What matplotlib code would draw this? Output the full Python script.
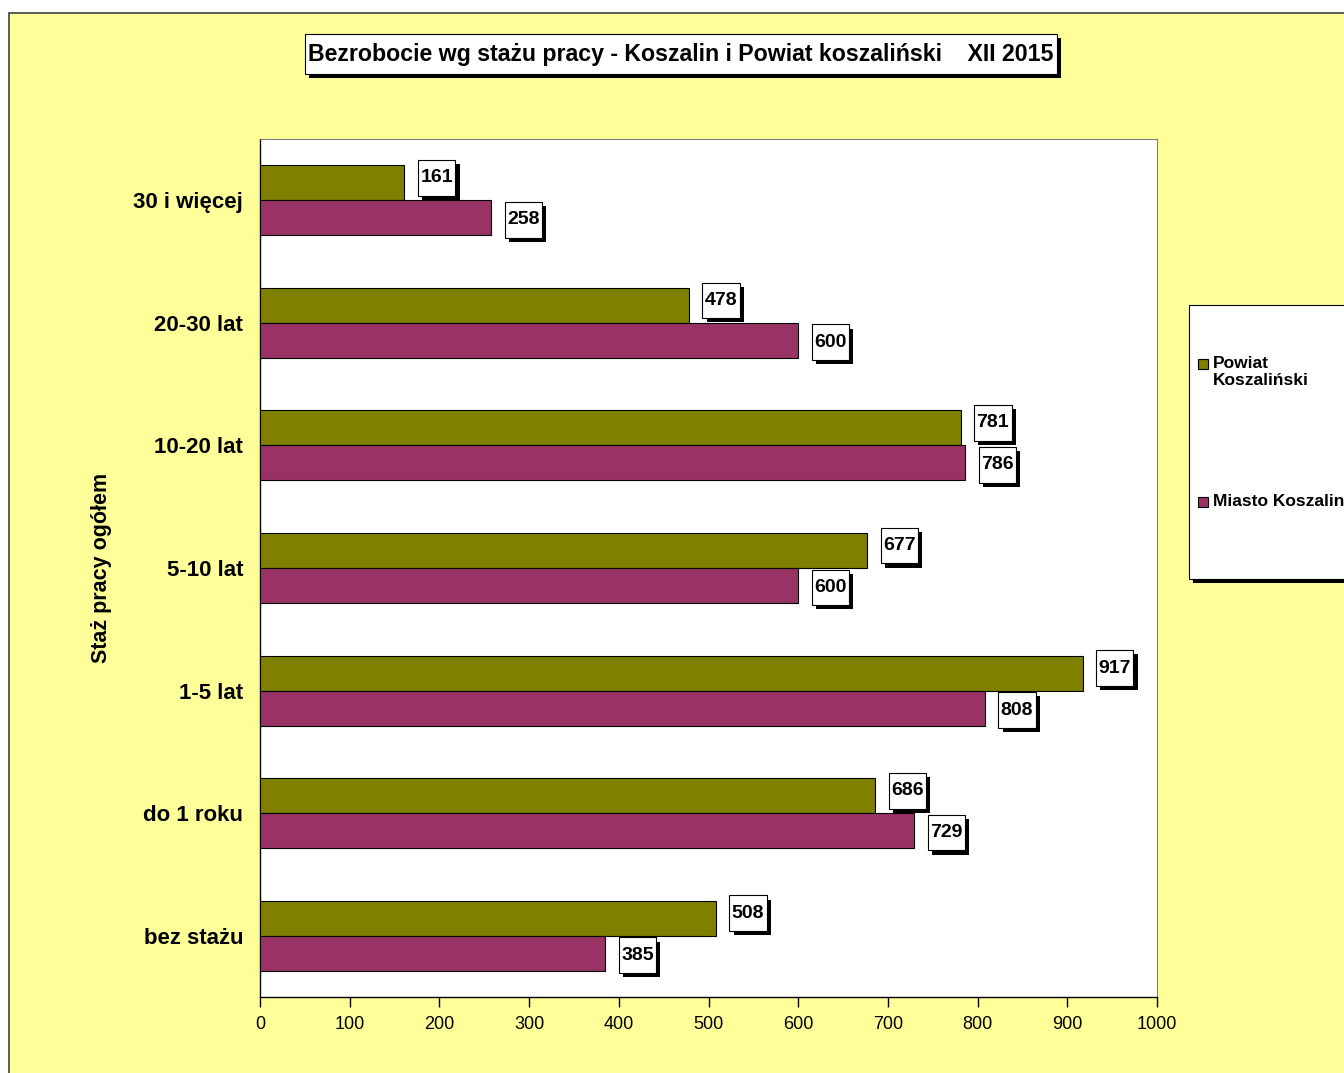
import matplotlib
matplotlib.use("Agg")
import matplotlib.pyplot as plt
from matplotlib.patches import Rectangle
from matplotlib.path import Path
import matplotlib.patheffects as pe

plt.rcParams['font.family'] = ['Liberation Sans', 'DejaVu Sans']

categories = ["bez stażu", "do 1 roku", "1-5 lat", "5-10 lat", "10-20 lat", "20-30 lat", "30 i więcej"]
powiat = [508, 686, 917, 677, 781, 478, 161]
miasto = [385, 729, 808, 600, 786, 600, 258]
series_names = ["Powiat\nKoszaliński", "Miasto Koszalin"]
xticks = [0, 100, 200, 300, 400, 500, 600, 700, 800, 900, 1000]
title = "Bezrobocie wg stażu pracy - Koszalin i Powiat koszaliński    XII 2015"
ylabel = "Staż pracy ogółem"

W, H = 1344, 1073
fig = plt.figure(figsize=(W / 100, H / 100), dpi=100)
fig.patch.set_facecolor("white")

def fx(px):
    return px / W

def fy(py):
    return 1 - py / H

olive = "#808000"
plum = "#993366"
yellow = "#FFFF99"


def make_box(padx, pady):
    def box(x0, y0, width, height, mutation_size):
        px = padx * mutation_size
        py = pady * mutation_size
        x0, y0 = x0 - px, y0 - py
        x1, y1 = x0 + width + 2 * px, y0 + height + 2 * py
        return Path([(x0, y0), (x1, y0), (x1, y1), (x0, y1), (x0, y0)], closed=True)
    return box

# outer chart area
outer = Rectangle((fx(8.5), fy(1090)), fx(1400), (1090 - 12.5) / H, transform=fig.transFigure,
                  facecolor=yellow, edgecolor="#404040", linewidth=1.2, zorder=-5)
fig.patches.append(outer)

ax = fig.add_axes([fx(260), fy(997), fx(1157) - fx(260), (997 - 139) / H])
ax.set_facecolor("white")
ax.set_zorder(1)

h = 0.285
ys = list(range(len(categories)))
ax.barh([y + h / 2 for y in ys], powiat, height=h, color=olive, edgecolor="black", linewidth=0.8, zorder=3)
ax.barh([y - h / 2 for y in ys], miasto, height=h, color=plum, edgecolor="black", linewidth=0.8, zorder=3)

ax.set_xlim(0, 1000)
ax.set_ylim(-0.5, len(categories) - 0.5)
ax.set_xticks(xticks)
ax.set_xticklabels([str(t) for t in xticks], fontsize=13)
ax.tick_params(axis="x", direction="out", length=7, width=1, pad=7)
ax.set_yticks(ys)
ax.set_yticklabels(categories, fontsize=16, fontweight="bold")
ax.tick_params(axis="y", length=0, pad=12)
for s in ["top", "right"]:
    ax.spines[s].set_color("#808080")
    ax.spines[s].set_linewidth(0.8)
for s in ["left", "bottom"]:
    ax.spines[s].set_color("black")
    ax.spines[s].set_linewidth(1)

shadow = [pe.withSimplePatchShadow(offset=(3, -3), shadow_rgbFace="black", alpha=1.0)]

def label(x, y, dy):
    t = ax.annotate(str(x), xy=(x, y), xytext=(16, dy), textcoords="offset pixels",
                    ha="left", va="center", fontsize=14, fontweight="bold", zorder=5,
                    bbox=dict(boxstyle=make_box(0.12, 0.48), facecolor="white", edgecolor="black", linewidth=0.8))
    t.get_bbox_patch().set_path_effects(shadow)

for y, v in zip(ys, powiat):
    label(v, y + h / 2, 5)
for y, v in zip(ys, miasto):
    label(v, y - h / 2, -2)

# title
tt = fig.text(fx(681), fy(54), title, ha="center", va="center", fontsize=16.7, fontweight="bold",
              bbox=dict(boxstyle=make_box(0.15, 0.36), facecolor="white", edgecolor="black", linewidth=0.8))
tt.get_bbox_patch().set_path_effects(shadow)

# y axis label
fig.text(fx(101), fy(568), ylabel, rotation=90, ha="center", va="center", fontsize=15.5, fontweight="bold")

# legend
leg = Rectangle((fx(1189), fy(579)), fx(200), (579 - 305) / H, transform=fig.transFigure,
                facecolor="white", edgecolor="black", linewidth=0.8, zorder=2)
leg.set_path_effects(shadow)
fig.patches.append(leg)
for (py, name, col) in [(364, series_names[0], olive), (502, series_names[1], plum)]:
    fig.patches.append(Rectangle((fx(1198), fy(py + 5)), 10 / W, 10 / H, transform=fig.transFigure,
                                 facecolor=col, edgecolor="black", linewidth=0.8, zorder=3))
    fig.text(fx(1213), fy(py - 8), name, ha="left", va="top", fontsize=12.5, fontweight="bold",
             linespacing=1.15, zorder=4)

fig.savefig("out.png", dpi=100, facecolor=fig.get_facecolor())
